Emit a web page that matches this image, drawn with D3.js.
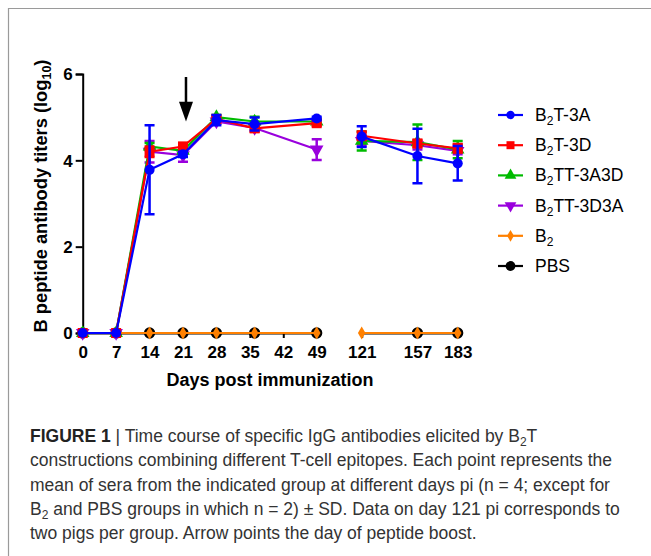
<!DOCTYPE html>
<html>
<head>
<meta charset="utf-8">
<script src="https://cdn.jsdelivr.net/npm/d3@7"></script>
<style>
  body { margin: 0; background: #fff; }
  svg { display: block; font-family: "Liberation Sans", Arial, sans-serif; }
</style>
</head>
<body>
<svg id="chart" width="651" height="556"></svg>
<script>
// sampling days (the day-35 point was plotted at day 36)
const days = [0, 7, 14, 21, 28, 36, 49, 121, 157, 183];
const ticksEarly = [0, 7, 14, 21, 28, 35, 42, 49];
const ticksLate = [121, 157, 183];
const yTicks = [0, 2, 4, 6];

const b2t3a = [0, 0, 3.78, 4.14, 4.93, 4.84, 4.97, 4.55, 4.10, 3.93];
const b2t3aSd = [0, 0, 1.03, 0.06, 0.12, 0.15, 0.04, 0.24, 0.63, 0.40];
const b2t3d = [0, 0, 4.20, 4.32, 4.96, 4.74, 4.86, 4.57, 4.39, 4.28];
const b2t3dSd = [0, 0, 0.12, 0.08, 0.05, 0.08, 0.06, 0.10, 0.08, 0.10];
const b2tt3a3d = [0, 0, 4.32, 4.22, 5.00, 4.90, 4.90, 4.45, 4.42, 4.25];
const b2tt3a3dSd = [0, 0, 0.08, 0.05, 0.05, 0.11, 0.05, 0.22, 0.41, 0.20];
const b2tt3d3a = [0, 0, 4.20, 4.12, 4.90, 4.75, 4.25, 4.45, 4.35, 4.22];
const b2tt3d3aSd = [0, 0, 0.25, 0.15, 0.05, 0.05, 0.24, 0.10, 0.10, 0.08];
const b2only = [0, 0, 0, 0, 0, 0, 0, 0, 0, 0];
const pbs = [0, 0, 0, 0, 0, 0, 0, null, 0, 0];

const series = [
  { name: ['B', '2', 'T-3A'], color: '#0000ff', values: b2t3a, sd: b2t3aSd, symbol: d3.symbolCircle, size: 80, lsize: 55 },
  { name: ['B', '2', 'T-3D'], color: '#ff0000', values: b2t3d, sd: b2t3dSd, symbol: d3.symbolSquare, size: 100, lsize: 64 },
  { name: ['B', '2', 'TT-3A3D'], color: '#00bb00', values: b2tt3a3d, sd: b2tt3a3dSd, symbol: d3.symbolTriangle, size: 80, lsize: 60 },
  { name: ['B', '2', 'TT-3D3A'], color: '#9900dd', values: b2tt3d3a, sd: b2tt3d3aSd, symbol: d3.symbolTriangle, rot: 180, size: 80, lsize: 60 },
  { name: ['B', '2', ''], color: '#ff8000', values: b2only, sd: null, symbol: d3.symbolDiamond, size: 50, lsize: 40 },
  { name: ['PBS', '', ''], color: '#000000', values: pbs, sd: null, symbol: d3.symbolCircle, size: 100, lsize: 75 }
];

const svg = d3.select('#chart');

// frame of the figure box
svg.append('path')
  .attr('d', 'M8.5,556 V8.5 H651')
  .attr('fill', 'none')
  .attr('stroke', '#9a9a9a')
  .attr('stroke-width', 1.2);

const y = d3.scaleLinear().domain([0, 6]).range([333, 74]);
const xEarly = d3.scaleLinear().domain([0, 49]).range([82.7, 316.7]);
const xLate = d3.scaleLinear().domain([121, 183]).range([361.7, 457.7]);
const x = d => (d <= 49 ? xEarly(d) : xLate(d));

// axes
const yAxis = svg.append('g')
  .attr('transform', `translate(${xEarly(0)},0)`)
  .call(d3.axisLeft(y).tickValues(yTicks).tickFormat(d3.format('d')).tickSize(7).tickPadding(3));

const xAxis1 = svg.append('g')
  .attr('transform', `translate(0,${y(0)})`)
  .call(d3.axisBottom(xEarly).tickValues(ticksEarly).tickSize(5).tickPadding(8).tickSizeOuter(0));

const xAxis2 = svg.append('g')
  .attr('transform', `translate(0,${y(0)})`)
  .call(d3.axisBottom(xLate).tickValues(ticksLate).tickSize(5).tickPadding(8).tickSizeOuter(0));

[yAxis, xAxis1, xAxis2].forEach(g => {
  g.select('.domain').attr('stroke', '#000').attr('stroke-width', 2);
  g.selectAll('.tick line').attr('stroke', '#000').attr('stroke-width', 2);
  g.selectAll('.tick text')
    .attr('fill', '#000')
    .attr('font-size', '17px')
    .attr('font-weight', 'bold')
    .attr('font-family', '"Liberation Sans", Arial, sans-serif');
});
yAxis.selectAll('.tick text').attr('dy', '0.35em');

// axis titles
const ylab = svg.append('text')
  .attr('transform', 'translate(47,196) rotate(-90)')
  .attr('text-anchor', 'middle')
  .attr('font-size', '18.3px')
  .attr('font-weight', 'bold');
ylab.append('tspan').text('B peptide antibody titers (log');
ylab.append('tspan').attr('font-size', '12.5px').attr('dy', 4).text('10');
ylab.append('tspan').attr('dy', -4).text(')');

svg.append('text')
  .attr('x', 270)
  .attr('y', 386)
  .attr('text-anchor', 'middle')
  .attr('font-size', '18px')
  .attr('font-weight', 'bold')
  .text('Days post immunization');

// draw order: last legend entry at the bottom, first on top
const plotOrder = series.slice().reverse();

const line = d3.line()
  .defined(d => d.v !== null)
  .x(d => x(d.day))
  .y(d => y(d.v));

plotOrder.forEach(s => {
  const pts = days.map((day, i) => ({ day, v: s.values[i], sd: s.sd ? s.sd[i] : 0 }));
  const early = pts.filter(p => p.day <= 49);
  const late = pts.filter(p => p.day > 49);
  const g = svg.append('g');

  // error bars
  pts.filter(p => p.v !== null && p.sd > 0).forEach(p => {
    const cx = x(p.day);
    g.append('path')
      .attr('d', `M${cx},${y(p.v - p.sd)}V${y(p.v + p.sd)}M${cx - 5},${y(p.v - p.sd)}H${cx + 5}M${cx - 5},${y(p.v + p.sd)}H${cx + 5}`)
      .attr('stroke', s.color)
      .attr('stroke-width', 2.5)
      .attr('fill', 'none');
  });

  [early, late].forEach(seg => {
    g.append('path')
      .datum(seg)
      .attr('d', line)
      .attr('fill', 'none')
      .attr('stroke', s.color)
      .attr('stroke-width', 2.2);
  });

  g.selectAll('path.pt')
    .data(pts.filter(p => p.v !== null))
    .join('path')
    .attr('class', 'pt')
    .attr('transform', p => `translate(${x(p.day)},${y(p.v)}) rotate(${s.rot || 0})`)
    .attr('d', d3.symbol().type(s.symbol).size(s.size))
    .attr('fill', s.color);
});

// boost arrow at day 21
const ax = xEarly(21) + 3;
svg.append('line')
  .attr('x1', ax).attr('x2', ax)
  .attr('y1', y(5.93)).attr('y2', y(5.3))
  .attr('stroke', '#000').attr('stroke-width', 2.5);
svg.append('path')
  .attr('d', `M${ax - 7},${y(5.36)} L${ax + 7},${y(5.36)} L${ax},${y(4.9)} Z`)
  .attr('fill', '#000');

// legend
const legend = svg.append('g').attr('transform', 'translate(498,115)');
series.forEach((s, i) => {
  const row = legend.append('g').attr('transform', `translate(0,${i * 30.2})`);
  row.append('line')
    .attr('x1', 0).attr('x2', 25)
    .attr('stroke', s.color).attr('stroke-width', 2.2);
  row.append('path')
    .attr('transform', `translate(12.5,0) rotate(${s.rot || 0})`)
    .attr('d', d3.symbol().type(s.symbol).size(s.lsize))
    .attr('fill', s.color);
  const t = row.append('text')
    .attr('x', 37)
    .attr('y', 6)
    .attr('font-size', '17.5px')
    .attr('fill', '#000');
  t.append('tspan').text(s.name[0]);
  if (s.name[1]) {
    t.append('tspan').attr('font-size', '12px').attr('dy', 4).text(s.name[1]);
    t.append('tspan').attr('dy', -4).text(s.name[2]);
  }
});

// caption
const capLines = [
  [['FIGURE 1', 'b'], [' | Time course of specific IgG antibodies elicited by B', ''], ['2', 's'], ['T', '']],
  [['constructions combining different T-cell epitopes. Each point represents the', '']],
  [['mean of sera from the indicated group at different days pi (n = 4; except for', '']],
  [['B', ''], ['2', 's'], [' and PBS groups in which n = 2) \u00b1 SD. Data on day 121 pi corresponds to', '']],
  [['two pigs per group. Arrow points the day of peptide boost.', '']]
];
capLines.forEach((parts, i) => {
  const t = svg.append('text')
    .attr('x', 30)
    .attr('y', 442 + i * 24.3)
    .attr('font-size', '17.5px')
    .attr('fill', '#333');
  let sub = false;
  parts.forEach(([txt, kind]) => {
    const sp = t.append('tspan').text(txt);
    if (kind === 'b') sp.attr('font-weight', 'bold').attr('fill', '#222');
    if (kind === 's') { sp.attr('font-size', '12px').attr('dy', 4); sub = true; }
    else if (sub) { sp.attr('dy', -4); sub = false; }
  });
});
</script>
</body>
</html>
